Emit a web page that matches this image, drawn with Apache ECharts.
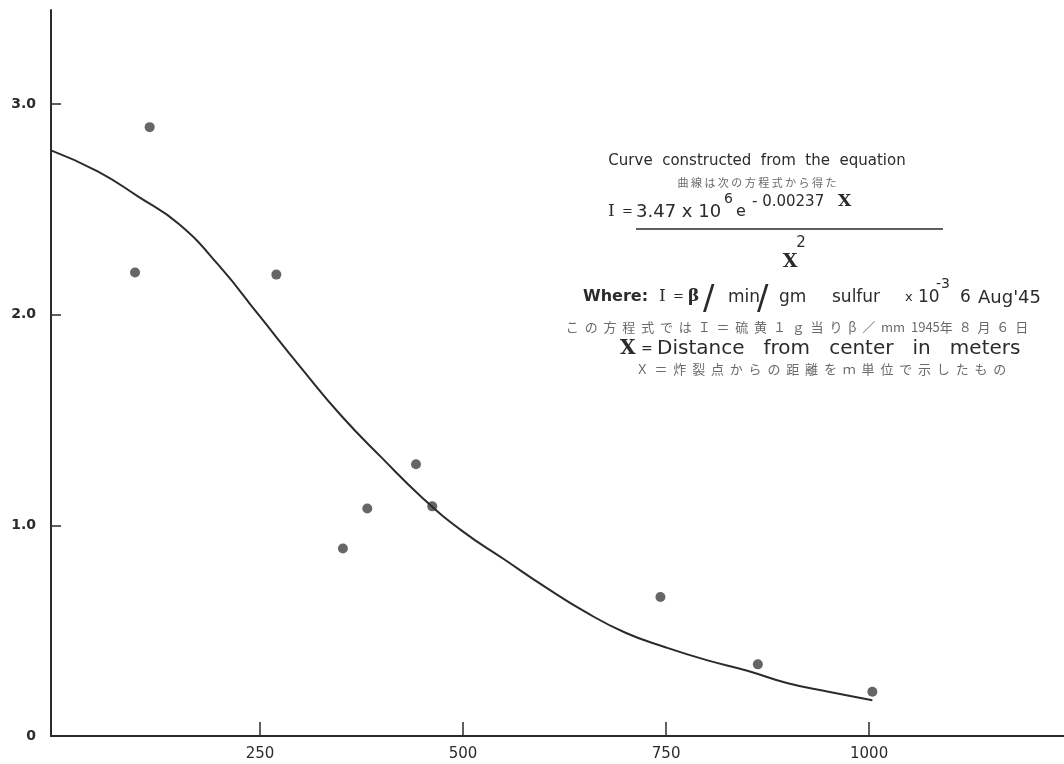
<!DOCTYPE html>
<html>
<head>
<meta charset="utf-8">
<script src="https://cdn.jsdelivr.net/npm/echarts@6/dist/echarts.min.js"></script>
<style>
  html, body { margin: 0; padding: 0; background: #fff; }
  #main { width: 1064px; height: 764px; }
</style>
</head>
<body>
<div id="main"></div>
<script>
// measured points (distance in m, intensity)
var pointX = [96, 114, 270, 352, 382, 442, 462, 743, 863, 1004];
var pointY = [2.20, 2.89, 2.19, 0.89, 1.08, 1.29, 1.09, 0.66, 0.34, 0.21];

// hand drawn curve, read along its path
var curveX = [-7.5, 50, 100, 150, 200, 250, 300, 350, 400, 450, 500, 550, 600, 650, 700, 750, 800, 850, 900, 950, 1004];
var curveY = [2.78, 2.68, 2.56, 2.43, 2.23, 1.99, 1.75, 1.52, 1.32, 1.13, 0.97, 0.84, 0.71, 0.59, 0.49, 0.42, 0.36, 0.31, 0.25, 0.21, 0.17];

var xTicks = [250, 500, 750, 1000];
var yTicks = [0, 1, 2, 3];

var ink = '#2b2b2b';
var grey = '#6a6a6a';
var font = '"DejaVu Sans", sans-serif';
var serif = '"DejaVu Serif", serif';
var jp = '"Noto Sans CJK JP", sans-serif';

var chart = echarts.init(document.getElementById('main'));

function txt(x, y, s, size, opts) {
  opts = opts || {};
  return {
    type: 'text', x: x, y: y, z: 10,
    style: {
      text: s,
      font: (opts.weight || 'normal') + ' ' + size + 'px ' + (opts.family || font),
      fill: opts.color || ink,
      align: opts.align || 'left',
      verticalAlign: 'middle'
    }
  };
}

// spread the characters of a string apart
function spaced(s, sep) {
  return s.split('').join(sep);
}

var graphics = [
  txt(757, 161, 'Curve  constructed  from  the  equation', 15, {align: 'center'}),
  txt(757, 183, spaced('曲線は次の方程式から得た', ' '), 11, {align: 'center', color: grey, family: jp}),
  txt(608, 212, 'I', 17, {family: serif}),
  txt(622, 212, '=', 13),
  txt(636, 212, '3.47 x 10', 18),
  txt(724, 199, '6', 14),
  txt(736, 212, 'e', 16),
  txt(752, 202, '- 0.00237', 15),
  txt(838, 202, 'X', 17, {family: serif, weight: 'bold'}),
  {
    type: 'line', z: 10,
    shape: {x1: 636, y1: 229, x2: 943, y2: 229},
    style: {stroke: ink, lineWidth: 1.5}
  },
  txt(790, 262, 'X', 19, {align: 'center', family: serif, weight: 'bold'}),
  txt(801, 243, '2', 15, {align: 'center'}),

  txt(583, 297, 'Where:', 16, {weight: 'bold'}),
  txt(659, 297, 'I', 17, {family: serif}),
  txt(673, 297, '=', 13),
  txt(688, 297, 'β', 17, {family: serif, weight: 'bold'}),
  txt(703, 300, '/', 34),
  txt(728, 298, 'min', 17),
  txt(757, 300, '/', 34),
  txt(779, 298, 'gm', 17),
  txt(832, 298, 'sulfur', 17),
  txt(905, 298, 'x', 13),
  txt(918, 298, '10', 17),
  txt(936, 284, '-3', 14),
  txt(960, 298, '6', 17),
  txt(978, 298, "Aug'45", 18),

  txt(797, 327, spaced('この方程式ではＩ＝硫黄１ｇ当りβ／', '  ') + '  mm  1945' + spaced('年８月６日', '  '), 13, {align: 'center', color: grey, family: jp}),
  txt(620, 349, 'X', 20, {family: serif, weight: 'bold'}),
  txt(641, 349, '=', 14),
  txt(657, 349, 'Distance   from   center   in   meters', 20),
  txt(821, 369, spaced('Ｘ＝炸裂点からの距離をｍ単位で示したもの', '  '), 13, {align: 'center', color: grey, family: jp})
];

var option = {
  backgroundColor: '#ffffff',
  animation: false,
  grid: {left: 51, right: 0, top: 10, bottom: 28},
  xAxis: {
    type: 'value',
    min: -7.5,
    max: 1240,
    splitLine: {show: false},
    axisLine: {show: true, onZero: false, lineStyle: {color: ink, width: 2}},
    axisTick: {show: true, inside: true, length: 14, customValues: xTicks, lineStyle: {color: ink, width: 1.5}},
    axisLabel: {
      customValues: xTicks,
      color: ink,
      fontFamily: font,
      fontSize: 15,
      margin: 11,
      formatter: function (v) { return String(v); }
    }
  },
  yAxis: {
    type: 'value',
    min: 0,
    max: 3.446,
    splitLine: {show: false},
    axisLine: {show: true, onZero: false, lineStyle: {color: ink, width: 2}},
    axisTick: {show: true, inside: true, length: 10, customValues: yTicks, lineStyle: {color: ink, width: 1.5}},
    axisLabel: {
      customValues: yTicks,
      color: ink,
      fontFamily: font,
      fontSize: 14,
      fontWeight: 'bold',
      margin: 15,
      formatter: function (v) { return v === 0 ? '0' : v.toFixed(1); }
    }
  },
  series: [
    {
      name: 'curve',
      type: 'line',
      smooth: 0.5,
      symbol: 'none',
      lineStyle: {color: ink, width: 2},
      data: curveX.map(function (x, i) { return [x, curveY[i]]; })
    },
    {
      name: 'measured',
      type: 'scatter',
      symbolSize: 10,
      itemStyle: {color: '#404040'},
      data: pointX.map(function (x, i) { return [x, pointY[i]]; })
    }
  ],
  graphic: graphics
};

chart.setOption(option);
</script>
</body>
</html>
